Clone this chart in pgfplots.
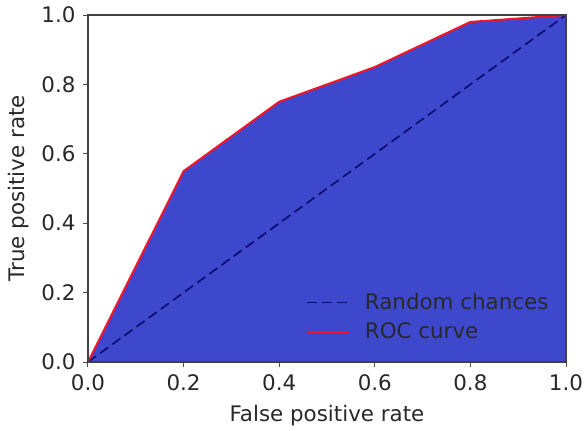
\documentclass[border=0pt]{standalone}
\usepackage{fontspec}
\setmainfont{DejaVu Sans}
\usepackage{pgfplots}
\pgfplotsset{compat=1.18}
\definecolor{fillblue}{RGB}{62,72,204}
\definecolor{navyd}{RGB}{10,10,110}
\definecolor{rocred}{RGB}{240,20,40}
\definecolor{txt}{RGB}{40,40,40}
\begin{document}
\fontsize{10.7pt}{12.5pt}\selectfont
\begin{tikzpicture}
\begin{axis}[
  scale only axis,
  width=239pt, height=173.5pt,
  xmin=0, xmax=1, ymin=0, ymax=1,
  xtick={0,0.2,...,1.0}, ytick={0,0.2,...,1.0},
  /pgf/number format/.cd, fixed, fixed zerofill, precision=1, assume math mode=true,
  /pgfplots/.cd,
  tick align=outside, tick pos=left,
  major tick length=2.5pt,
  every tick/.style={black!70, line width=0.5pt},
  axis line style={black!75, line width=0.6pt},
  ticklabel style={font=\fontsize{10.7pt}{12.5pt}\selectfont, text=txt},
  xlabel={False positive rate}, ylabel={True positive rate},
  label style={font=\fontsize{10.7pt}{12.5pt}\selectfont, text=txt},
  xlabel style={yshift=0pt},
  ylabel style={yshift=-1pt},
  legend style={draw=none, fill=none, at={(0.985,0.035)}, anchor=south east, font=\fontsize{10.7pt}{12.5pt}\selectfont, text=txt, row sep=1pt},
  legend cell align=left,
  legend image code/.code={\draw[#1] (0pt,0pt) -- (21pt,0pt); \path (26.5pt,0pt);},
  axis on top,
]
\addplot[fill=fillblue, draw=none, forget plot] coordinates {(0,0) (0.2,0.55) (0.4,0.75) (0.6,0.85) (0.8,0.98) (1.0,1.0)} \closedcycle;
\addplot[navyd, dash pattern=on 5pt off 2.5pt, line width=0.8pt] coordinates {(0,0) (1,1)};
\addlegendentry{Random chances}
\addplot[rocred, line width=1pt] coordinates {(0,0) (0.2,0.55) (0.4,0.75) (0.6,0.85) (0.8,0.98) (1.0,1.0)};
\addlegendentry{ROC curve}
\end{axis}
\pgfresetboundingbox
\path ([shift={(-44pt,-34pt)}]current axis.south west) rectangle ([shift={(9pt,7.5pt)}]current axis.north east);
\end{tikzpicture}
\end{document}
